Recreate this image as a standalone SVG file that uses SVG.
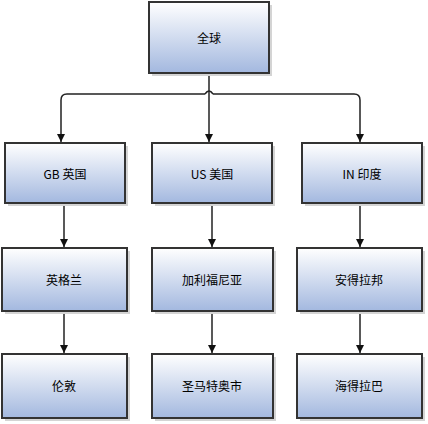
<svg xmlns="http://www.w3.org/2000/svg" width="428" height="424" viewBox="0 0 428 424">
<defs>
<linearGradient id="g" x1="0" y1="0" x2="0" y2="1">
<stop offset="0" stop-color="#ffffff"/>
<stop offset="1" stop-color="#a3b8df"/>
</linearGradient>
<marker id="a" viewBox="0 0 10 10" refX="10" refY="5" markerWidth="8" markerHeight="8" markerUnits="userSpaceOnUse" orient="auto">
<path d="M0,0 L10,5 L0,10 z" fill="#111"/>
</marker>
</defs>
<style>
.sh{fill:#d4d4d4}
.bx{fill:url(#g);stroke:#333;stroke-width:2}
.t{font-family:"Noto Sans CJK SC","Noto Sans",sans-serif;font-size:12px;fill:#000;text-anchor:middle;dominant-baseline:central}
.c{fill:none;stroke:#222;stroke-width:1.5;marker-end:url(#a)}
.l{fill:none;stroke:#222;stroke-width:1.5}
</style>
<g id="connectors">
<path class="c" d="M209,73 V142"/>
<path class="c" d="M205,94 H67 Q61,94 61,100 V142"/>
<path class="c" d="M213,94 H354 Q360,94 360,100 V142"/>
<path class="l" d="M205,94 Q209,88 213,94"/>
<path class="c" d="M64,204 V247"/>
<path class="c" d="M212,204 V247"/>
<path class="c" d="M360,204 V247"/>
<path class="c" d="M64,312 V353"/>
<path class="c" d="M212,312 V353"/>
<path class="c" d="M360,312 V353"/>
</g>
<g id="n_global"><rect class="sh" x="152" y="5" width="120" height="71"/><rect class="bx" x="149" y="2" width="120" height="71"/><text class="t" x="209" y="37">全球</text></g>
<g id="n_gb"><rect class="sh" x="8" y="146" width="120" height="60"/><rect class="bx" x="5" y="143" width="120" height="60"/><text class="t" x="65" y="173">GB 英国</text></g>
<g id="n_us"><rect class="sh" x="155" y="146" width="120" height="60"/><rect class="bx" x="152" y="143" width="120" height="60"/><text class="t" x="212" y="173">US 美国</text></g>
<g id="n_in"><rect class="sh" x="305" y="146" width="120" height="60"/><rect class="bx" x="302" y="143" width="120" height="60"/><text class="t" x="362" y="173">IN 印度</text></g>
<g id="n_eng"><rect class="sh" x="5" y="251" width="125" height="63"/><rect class="bx" x="2" y="248" width="125" height="63"/><text class="t" x="64" y="279">英格兰</text></g>
<g id="n_ca"><rect class="sh" x="155" y="251" width="121" height="63"/><rect class="bx" x="152" y="248" width="121" height="63"/><text class="t" x="212" y="279">加利福尼亚</text></g>
<g id="n_ap"><rect class="sh" x="300" y="251" width="125" height="63"/><rect class="bx" x="297" y="248" width="125" height="63"/><text class="t" x="359" y="279">安得拉邦</text></g>
<g id="n_lon"><rect class="sh" x="5" y="357" width="125" height="64"/><rect class="bx" x="2" y="354" width="125" height="64"/><text class="t" x="64" y="385">伦敦</text></g>
<g id="n_sm"><rect class="sh" x="155" y="357" width="121" height="64"/><rect class="bx" x="152" y="354" width="121" height="64"/><text class="t" x="212" y="385">圣马特奥市</text></g>
<g id="n_hy"><rect class="sh" x="300" y="357" width="125" height="64"/><rect class="bx" x="297" y="354" width="125" height="64"/><text class="t" x="359" y="385">海得拉巴</text></g>
</svg>
